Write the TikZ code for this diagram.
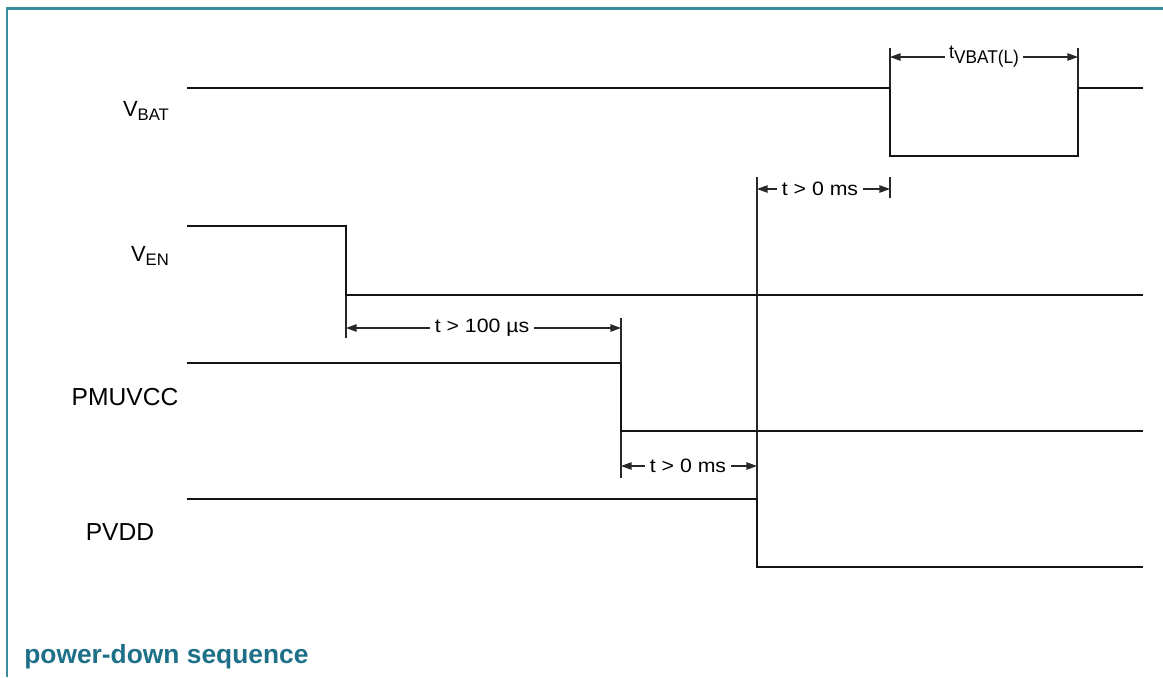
\documentclass[tikz,border=0pt]{standalone}
\usepackage{fontspec}
\setmainfont{Liberation Sans}
\usepackage{tikz}
\usetikzlibrary{arrows.meta}
\pgfdeclarelayer{edgelayer}
\pgfdeclarelayer{nodelayer}
\pgfsetlayers{edgelayer,main,nodelayer}
\definecolor{frameteal}{RGB}{58,140,156}
\definecolor{titleteal}{RGB}{30,112,136}
\definecolor{wire}{RGB}{20,20,20}
\definecolor{dimgray}{RGB}{40,40,40}
\tikzstyle{signal}=[draw=wire, line width=1.4pt, line join=miter]
\tikzstyle{dimline}=[draw=dimgray, line width=0.7pt]
\tikzstyle{dimarrow}=[draw=dimgray, line width=0.7pt, -{Triangle[length=6pt,width=4.2pt]}]
\tikzstyle{dimlabel}=[fill=white, inner sep=2.5pt, xscale=1.1, font=\fontsize{11}{12}\selectfont]
\tikzstyle{siglabel}=[inner sep=0pt, font=\fontsize{14}{16}\selectfont]
\tikzstyle{vlabel}=[inner sep=0pt, font=\fontsize{12.5}{14}\selectfont]
\newcommand{\vsub}[2]{#1\raisebox{-0.28ex}{\fontsize{9.5}{10}\selectfont #2}}

\begin{document}
\begin{tikzpicture}[x=0.02cm, y=-0.02cm]
            \useasboundingbox (0, 0) rectangle (1163, 677);
            % frame and title
            \coordinate (frTR) at (1163, 8.5);
            \coordinate (frTL) at (7, 8.5);
            \coordinate (frBL) at (7, 677);
            \draw [draw=frameteal, line width=1.4pt] (frTR) -- (frTL) -- (frBL);
            \node [anchor=west, inner sep=0pt, text=titleteal, font=\fontsize{15}{17}\selectfont\bfseries] (title) at (24, 657) {power-down sequence};

            \begin{pgfonlayer}{nodelayer}
                \node [style=vlabel] (VBAT) at (146, 111) {\vsub{V}{BAT}};
                \node [style=vlabel] (VEN) at (150, 256) {\vsub{V}{EN}};
                \node [style=siglabel] (PMUVCC) at (125, 397) {PMUVCC};
                \node [style=siglabel] (PVDD) at (120, 532) {PVDD};

                \node [style=dimlabel, xscale=0.85] (tvbat) at (984, 57) {t\raisebox{-0.5ex}{\fontsize{10.5}{11}\selectfont VBAT(L)}};
                \node [style=dimlabel] (tbat0) at (820, 189) {t > 0 ms};
                \node [style=dimlabel] (t100) at (482, 328) {t > 100 µs};
                \node [style=dimlabel] (tpvdd0) at (688, 466) {t > 0 ms};
            \end{pgfonlayer}

            % waveforms
            \coordinate (vb0) at (187, 88);
            \coordinate (vbF) at (890, 88);
            \coordinate (vbL) at (890, 156);
            \coordinate (vbR) at (1078, 156);
            \coordinate (vbU) at (1078, 88);
            \coordinate (vbE) at (1143, 88);
            \draw [style=signal] (vb0) -- (vbF) -- (vbL) -- (vbR) -- (vbU) -- (vbE);

            \coordinate (en0) at (187, 226);
            \coordinate (enF) at (346, 226);
            \coordinate (enL) at (346, 295);
            \coordinate (enE) at (1143, 295);
            \draw [style=signal] (en0) -- (enF) -- (enL) -- (enE);

            \coordinate (pm0) at (187, 363);
            \coordinate (pmF) at (621, 363);
            \coordinate (pmL) at (621, 431);
            \coordinate (pmE) at (1143, 431);
            \draw [style=signal] (pm0) -- (pmF) -- (pmL) -- (pmE);

            \coordinate (pv0) at (187, 499);
            \coordinate (pvF) at (757, 499);
            \coordinate (pvL) at (757, 567);
            \coordinate (pvE) at (1143, 567);
            \draw [style=signal] (pv0) -- (pvF) -- (pvL) -- (pvE);

            \begin{pgfonlayer}{edgelayer}
                % extension lines
                \coordinate (xF) at (890, 48);
                \coordinate (xU) at (1078, 48);
                \draw [style=dimline] (xF) -- (vbF);
                \draw [style=dimline] (xU) -- (vbU);
                \coordinate (xbT) at (890, 177);
                \coordinate (xbB) at (890, 198);
                \draw [style=dimline] (xbT) -- (xbB);
                \coordinate (xpT) at (757, 177);
                \draw [style=dimline] (xpT) -- (pvF);
                \coordinate (xeB) at (346, 338);
                \draw [style=dimline] (enL) -- (xeB);
                \coordinate (xmT) at (621, 318);
                \draw [style=dimline] (xmT) -- (pmF);
                \coordinate (xmB) at (621, 478);
                \draw [style=dimline] (pmL) -- (xmB);

                % dimension arrows
                \draw [style=dimarrow] (tvbat.west) -- (890, 57);
                \draw [style=dimarrow] (tvbat.east) -- (1078, 57);
                \draw [style=dimarrow] (tbat0.west) -- (xpT |- tbat0);
                \draw [style=dimarrow] (tbat0.east) -- (xbT |- tbat0);
                \draw [style=dimarrow] (t100.west) -- (enL |- t100);
                \draw [style=dimarrow] (t100.east) -- (xmT |- t100);
                \draw [style=dimarrow] (tpvdd0.west) -- (pmL |- tpvdd0);
                \draw [style=dimarrow] (tpvdd0.east) -- (pvF |- tpvdd0);
            \end{pgfonlayer}
        \end{tikzpicture}
\end{document}
